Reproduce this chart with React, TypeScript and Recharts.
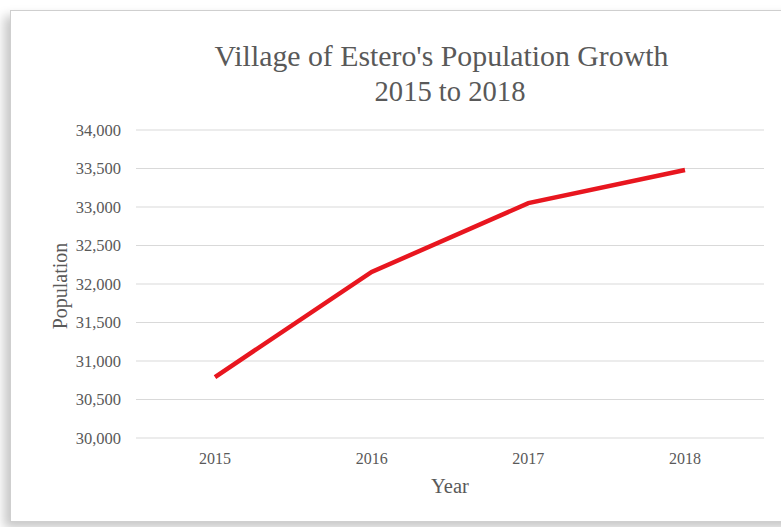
import React from 'react';
import { LineChart, Line, XAxis, YAxis, CartesianGrid } from 'recharts';

const years = ['2015', '2016', '2017', '2018'];
const population = [30792, 32156, 33050, 33481];
const yTicks = [30000, 30500, 31000, 31500, 32000, 32500, 33000, 33500, 34000];

const data = years.map((y, i) => ({ year: y, population: population[i] }));

const FONT = '"Liberation Serif", "Times New Roman", serif';
const TXT = '#595959';

export default function App() {
  return (
    <div style={{ position: 'absolute', left: 0, top: 0, width: 781, height: 527, overflow: 'hidden', background: '#ffffff', fontFamily: FONT }}>
      <div
        style={{
          position: 'absolute',
          left: 10,
          top: 10,
          width: 790,
          height: 510,
          border: '1.5px solid #cfcfcf',
          boxShadow: '-6px 6px 10px rgba(0,0,0,0.22)',
          background: '#ffffff',
        }}
      />
      <LineChart
        width={781}
        height={527}
        data={data}
        margin={{ top: 130, right: 17, bottom: 59, left: 0 }}
        style={{ position: 'absolute', left: 0, top: 0 }}
      >
        <CartesianGrid vertical={false} stroke="#d9d9d9" strokeWidth={1} />
        <XAxis
          dataKey="year"
          height={30}
          axisLine={false}
          tickLine={false}
          tickSize={0}
          tickMargin={15}
          padding={{ left: 79, right: 79 }}
          tick={{ fill: TXT, fontSize: 16, fontFamily: FONT }}
        />
        <YAxis
          width={136}
          domain={[30000, 34000]}
          ticks={yTicks}
          axisLine={false}
          tickLine={false}
          tickSize={0}
          tickMargin={15}
          interval={0}
          tickFormatter={(v: number) => v.toLocaleString('en-US')}
          tick={{ fill: TXT, fontSize: 16.5, fontFamily: FONT }}
        />
        <Line
          type="linear"
          dataKey="population"
          stroke="#e8161f"
          strokeWidth={4.5}
          dot={false}
          activeDot={false}
          isAnimationActive={false}
        />
      </LineChart>
      <div style={{ position: 'absolute', left: 0, width: 883, top: 39, textAlign: 'center', fontSize: 29.8, lineHeight: '34px', color: TXT }}>
        Village of Estero's Population Growth
      </div>
      <div style={{ position: 'absolute', left: 0, width: 900, top: 75, textAlign: 'center', fontSize: 28.6, lineHeight: '34px', color: TXT }}>
        2015 to 2018
      </div>
      <div style={{ position: 'absolute', left: 0, width: 900, top: 474, textAlign: 'center', fontSize: 20.5, lineHeight: '24px', color: TXT }}>
        Year
      </div>
      <div
        style={{
          position: 'absolute',
          left: 60,
          top: 286,
          transform: 'translate(-50%, -50%) rotate(-90deg)',
          fontSize: 20,
          lineHeight: '24px',
          color: TXT,
          whiteSpace: 'nowrap',
        }}
      >
        Population
      </div>
    </div>
  );
}
